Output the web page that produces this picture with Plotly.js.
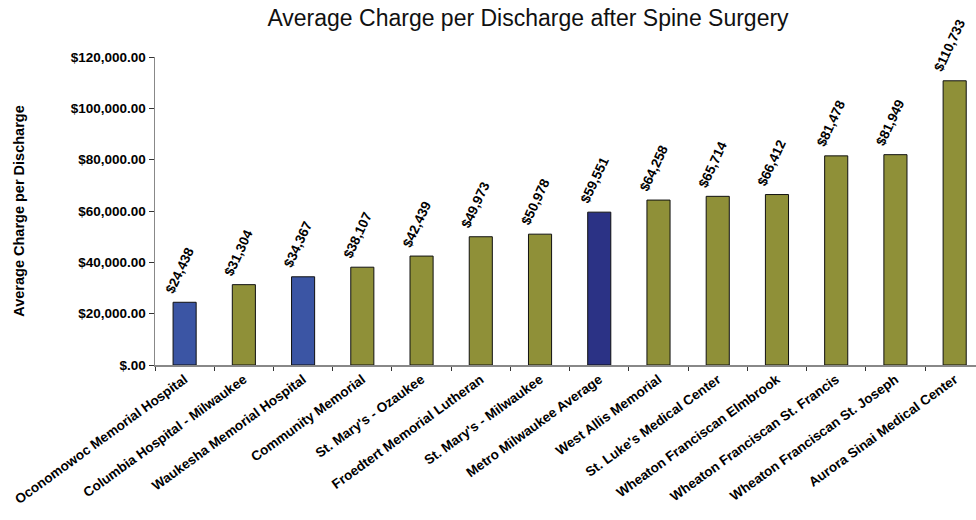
<!DOCTYPE html>
<html>
<head>
<meta charset="utf-8">
<script src="https://cdn.plot.ly/plotly-3.0.1.min.js"></script>
<style>
  body { margin: 0; background: #fff; }
  #chart { width: 976px; height: 520px; }
</style>
</head>
<body>
<div id="chart"></div>
<script>
// hospitals, in the order shown
var hospitals = [
    "Oconomowoc Memorial Hospital", "Columbia Hospital - Milwaukee", "Waukesha Memorial Hospital",
    "Community Memorial", "St. Mary's - Ozaukee", "Froedtert Memorial Lutheran",
    "St. Mary's - Milwaukee", "Metro Milwaukee Average", "West Allis Memorial",
    "St. Luke's Medical Center", "Wheaton Franciscan Elmbrook", "Wheaton Franciscan St. Francis",
    "Wheaton Franciscan St. Joseph", "Aurora Sinai Medical Center"
];
var avgCharge = [24438, 31304, 34367, 38107, 42439, 49973, 50978, 59551, 64258, 65714, 66412, 81478, 81949, 110733];
var barColors = ["#3B55A4", "#8F9038", "#3B55A4", "#8F9038", "#8F9038", "#8F9038", "#8F9038",
                 "#2B3285", "#8F9038", "#8F9038", "#8F9038", "#8F9038", "#8F9038", "#8F9038"];

var yTickVals = [0, 20000, 40000, 60000, 80000, 100000, 120000];
var yTickText = ["$.00", "$20,000.00", "$40,000.00", "$60,000.00", "$80,000.00", "$100,000.00", "$120,000.00"];

var bold = 'Liberation Sans, Arial, sans-serif';

var trace = {
    x: hospitals,
    y: avgCharge,
    type: 'bar',
    width: 0.39,
    marker: {
        color: barColors,
        line: { color: '#111', width: 1 }
    },
    hoverinfo: 'none'
};

// value labels above the bars, rotated
var valueLabels = hospitals.map((h, i) => ({
    x: h,
    y: avgCharge[i],
    xref: 'x', yref: 'y',
    text: "$" + avgCharge[i].toLocaleString("en-US"),
    showarrow: false,
    textangle: -65,
    xanchor: 'center',
    yanchor: 'bottom',
    xshift: -5,
    yshift: 4,
    font: { family: bold, size: 13.5, color: '#000', weight: 'bold' }
}));

var layout = {
    width: 976,
    height: 520,
    margin: { l: 155, r: 0, t: 57, b: 155 },
    paper_bgcolor: '#fff',
    plot_bgcolor: '#fff',
    showlegend: false,
    title: {
        text: 'Average Charge per Discharge after Spine Surgery',
        font: { family: 'Liberation Sans Narrow, Arial Narrow, Liberation Sans, sans-serif', size: 23, color: '#111' },
        x: 0.541, xanchor: 'center',
        y: 0.965, yanchor: 'middle'
    },
    annotations: valueLabels,
    xaxis: {
        range: [-0.5, 13.36],
        tickangle: -36,
        tickson: 'boundaries',
        ticks: 'outside',
        ticklen: 4,
        tickcolor: '#333',
        showline: true,
        linecolor: '#888',
        linewidth: 1.5,
        tickfont: { family: bold, size: 13.5, color: '#000', weight: 'bold' },
        fixedrange: true
    },
    yaxis: {
        range: [0, 120000],
        tickvals: yTickVals,
        ticktext: yTickText,
        ticks: 'outside',
        ticklen: 5,
        tickcolor: '#333',
        showline: true,
        linecolor: '#888',
        linewidth: 1.5,
        showgrid: false,
        zeroline: false,
        tickfont: { family: bold, size: 13.5, color: '#000', weight: 'bold' },
        title: {
            text: 'Average Charge per Discharge',
            font: { family: bold, size: 14.5, color: '#000', weight: 'bold' },
            standoff: 42
        },
        fixedrange: true
    }
};

Plotly.newPlot('chart', [trace], layout, { displayModeBar: false, staticPlot: true });
</script>
</body>
</html>
